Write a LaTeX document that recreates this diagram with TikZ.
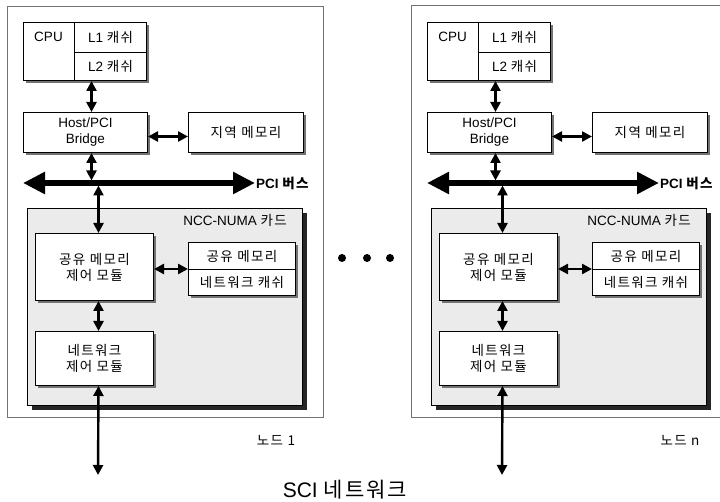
\documentclass[tikz,border=0pt]{standalone}
\usepackage{fontspec}
\setmainfont{Liberation Sans}
\newfontfamily\kr[LetterSpace=10]{Noto Sans CJK KR}
\usetikzlibrary{arrows.meta,shadows}

\begin{document}
\begin{tikzpicture}[x=1pt,y=-1pt]
	\tikzset{every node/.style={font=\fontsize{13.5}{16}\selectfont}}
	\tikzset{kr/.style={font=\kr\fontsize{13.5}{16}\selectfont}}
	\tikzset{box/.style={draw,line width=1pt,fill=white,anchor=north west,align=center,inner sep=0pt,drop shadow={shadow xshift=2.5pt,shadow yshift=-2.5pt,fill=black!55,opacity=1}}}
	\tikzset{card/.style={draw,line width=1.2pt,fill=black!8,anchor=north west,inner sep=0pt,drop shadow={shadow xshift=4.5pt,shadow yshift=-4.5pt,fill=black!85,opacity=1}}}
	\tikzset{link/.style={{Triangle[length=10pt,width=10pt]}-{Triangle[length=10pt,width=10pt]},line width=2.4pt}}
	\tikzset{bus/.style={{Triangle[length=22pt,width=21pt]}-{Triangle[length=22pt,width=21pt]},line width=5.5pt}}
	\tikzset{frame/.style={draw=black!55,line width=0.6pt}}
	\useasboundingbox (0,0) rectangle (720,502);
	\draw[frame] (7,6) rectangle (323,417);
	\draw[frame] (720,5) -| (411,417) -- (720,417);
	\foreach \dx/\s/\n in {0/a/1,404/b/n}{
	\begin{scope}[xshift=\dx pt]
		\node[box,minimum width=51pt,minimum height=58pt] (cpu\s) at (23,22) {};
		\node[box,minimum width=72pt,minimum height=30pt] (l1\s) at (74,22) {L1 {\kr 캐쉬}};
		\node[box,minimum width=72pt,minimum height=28pt] (l2\s) at (74,52) {L2 {\kr 캐쉬}};
		\node (cputxt\s) at (48.5,37) {CPU};
		\node[box,minimum width=124pt,minimum height=40pt] (bridge\s) at (23,112) {Host/PCI\\Bridge};
		\node[box,kr,minimum width=115pt,minimum height=40pt] (lmem\s) at (188,112) {지역 메모리};
		\coordinate (busl\s) at (23,183);
		\coordinate (busr\s) at (255,183);
		\draw[bus] (busl\s) -- (busr\s);
		\node[anchor=west,inner sep=1pt,font=\fontsize{13.5}{16}\selectfont\bfseries] (busname\s) at (busr\s) {PCI {\kr 버스}};
		\node[card,minimum width=275pt,minimum height=197pt] (card\s) at (27,208) {};
		\node (cardname\s) at (235,220) {NCC-NUMA {\kr 카드}};
		\node[box,kr,minimum width=118pt,minimum height=67pt] (smcm\s) at (35,233) {공유 메모리\\제어 모듈};
		\node[box,kr,minimum width=107pt,minimum height=27pt] (shm\s) at (188,242) {공유 메모리};
		\node[box,kr,minimum width=107pt,minimum height=26pt] (ncache\s) at (188,269) {네트워크 캐쉬};
		\node[box,kr,minimum width=118pt,minimum height=54pt] (ncm\s) at (35,331) {네트워크\\제어 모듈};
		\coordinate (sci\s) at (98,475);
		\node[kr] (nodename\s) at (276,440) {노드 \n};
		\draw[link] ([xshift=6pt]bridge\s.north |- l2\s.south) -- ([xshift=6pt]bridge\s.north);
		\draw[link] ([yshift=-4pt]bridge\s.east) -- ([yshift=-4pt]bridge\s.east -| lmem\s.west);
		\draw[link,shorten >=2.5pt] ([xshift=6pt]bridge\s.south) -- ([xshift=6pt]bridge\s.south |- busl\s);
		\draw[link,shorten <=2.5pt] ([xshift=4pt]smcm\s.north |- busl\s) -- ([xshift=4pt]smcm\s.north);
		\draw[link] (ncache\s.north west -| smcm\s.east) -- (ncache\s.north west);
		\draw[link] ([xshift=4pt]smcm\s.south) -- ([xshift=4pt]ncm\s.north);
		\draw[link] ([xshift=4pt]ncm\s.south) -- (sci\s);
	\end{scope}
	}
	\foreach \x [count=\i] in {342,367,390}
		\node[circle,fill,inner sep=0pt,minimum size=8pt] (dot\i) at (\x,258) {};
	\node[font=\fontsize{21}{24}\selectfont] (sci) at (345,490) {SCI {\kr 네트워크}};
\end{tikzpicture}
\end{document}
